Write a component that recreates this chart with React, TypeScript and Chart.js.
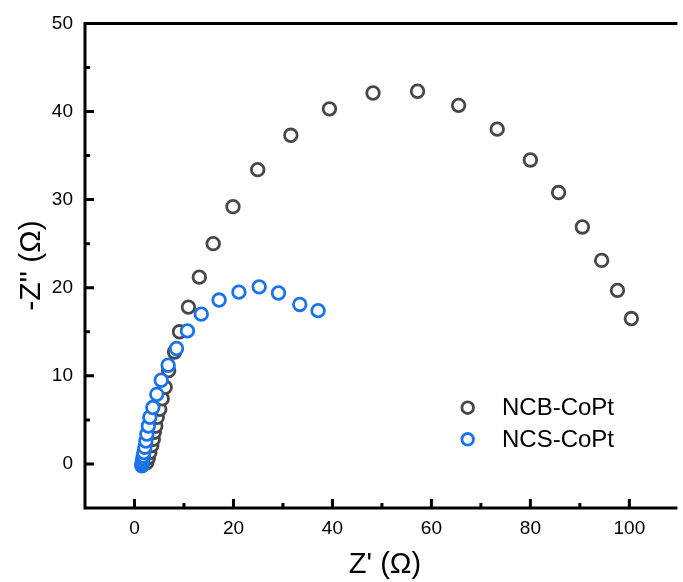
import React, { useEffect, useRef } from "react";
import { Chart, registerables } from "chart.js";

Chart.register(...registerables);

const ncbX = [2.5, 2.8, 3.1, 3.5, 3.8, 4.0, 4.3, 4.6, 5.1, 5.6, 6.2, 6.9, 8.1, 9.1, 10.9, 13.1, 15.9, 19.9, 24.9, 31.6, 39.4, 48.2, 57.2, 65.5, 73.3, 80.0, 85.7, 90.5, 94.4, 97.6, 100.4];
const ncbY = [0.15, 0.7, 1.3, 2.1, 2.8, 3.6, 4.3, 5.3, 6.2, 7.4, 8.7, 10.6, 12.7, 15.0, 17.8, 21.2, 25.0, 29.2, 33.4, 37.3, 40.3, 42.1, 42.3, 40.7, 38.0, 34.5, 30.8, 26.9, 23.1, 19.7, 16.5];
const ncsX = [1.5, 1.5, 1.55, 1.6, 1.7, 1.8, 1.9, 2.1, 2.3, 2.5, 2.8, 3.1, 3.7, 4.5, 5.4, 6.8, 8.5, 10.7, 13.5, 17.1, 21.1, 25.2, 29.1, 33.4, 37.1];
const ncsY = [-0.2, -0.1, 0.1, 0.3, 0.6, 0.9, 1.3, 1.9, 2.6, 3.4, 4.3, 5.3, 6.4, 7.9, 9.5, 11.2, 13.1, 15.1, 17.0, 18.6, 19.5, 20.1, 19.4, 18.1, 17.4];

const seriesNames = ["NCB-CoPt", "NCS-CoPt"];
const seriesColors = ["#474747", "#1a73e8"];
const xMajorTicks = [0, 20, 40, 60, 80, 100];
const xMinorTicks = [-10, 10, 30, 50, 70, 90];
const yMajorTicks = [0, 10, 20, 30, 40, 50];
const yMinorTicks = [-5, 5, 15, 25, 35, 45];
const xTitle = "Z' (\u03A9)";
const yTitle = "-Z'' (\u03A9)";

const FONT = "'Liberation Sans', Arial, sans-serif";

const decorPlugin = {
  id: "decor",
  afterDraw(chart: any) {
    const { ctx, chartArea } = chart;
    const xs = chart.scales.x;
    const ys = chart.scales.y;
    const { left, right, top, bottom } = chartArea;
    ctx.save();
    ctx.strokeStyle = "#000";
    ctx.lineWidth = 3;
    ctx.lineCap = "square";
    ctx.beginPath();
    ctx.moveTo(left, top);
    ctx.lineTo(right + 2, top);
    ctx.moveTo(left, top);
    ctx.lineTo(left, bottom);
    ctx.lineTo(right + 2, bottom);
    ctx.stroke();
    ctx.lineCap = "butt";
    // ticks inward
    ctx.beginPath();
    xMajorTicks.forEach((v) => {
      const p = xs.getPixelForValue(v);
      ctx.moveTo(p, bottom);
      ctx.lineTo(p, bottom - 9);
    });
    xMinorTicks.forEach((v) => {
      const p = xs.getPixelForValue(v);
      if (p <= left + 1) return;
      ctx.moveTo(p, bottom);
      ctx.lineTo(p, bottom - 5);
    });
    yMajorTicks.forEach((v) => {
      const p = ys.getPixelForValue(v);
      ctx.moveTo(left, p);
      ctx.lineTo(left + 9, p);
    });
    yMinorTicks.forEach((v) => {
      const p = ys.getPixelForValue(v);
      if (p >= bottom - 1) return;
      ctx.moveTo(left, p);
      ctx.lineTo(left + 5, p);
    });
    ctx.stroke();

    // axis titles
    ctx.fillStyle = "#000";
    ctx.font = `29px ${FONT}`;
    ctx.textAlign = "center";
    ctx.textBaseline = "alphabetic";
    ctx.fillText(xTitle, 385, 573);
    ctx.save();
    ctx.translate(40, 265.5);
    ctx.rotate(-Math.PI / 2);
    ctx.font = `30px ${FONT}`;
    ctx.fillText(yTitle, 0, 0);
    ctx.restore();

    // legend
    const legendY = [407.7, 439.3];
    ctx.font = `24px ${FONT}`;
    ctx.textAlign = "left";
    ctx.textBaseline = "middle";
    seriesNames.forEach((name, i) => {
      ctx.beginPath();
      ctx.lineWidth = 2.8;
      ctx.strokeStyle = seriesColors[i];
      ctx.fillStyle = "#fff";
      ctx.arc(467.7, legendY[i], 5.8, 0, Math.PI * 2);
      ctx.fill();
      ctx.stroke();
      ctx.fillStyle = "#000";
      ctx.fillText(name, 502, legendY[i] + 1);
    });
    ctx.restore();
  },
};

export default function App() {
  const ref = useRef<HTMLCanvasElement>(null);
  useEffect(() => {
    const canvas = ref.current!;
    const mk = (xsArr: number[], ysArr: number[]) => xsArr.map((x, i) => ({ x, y: ysArr[i] }));
    const common = { pointRadius: 6.3, pointBorderWidth: 2.8, backgroundColor: "#ffffff", pointBackgroundColor: "#ffffff" };
    const chart = new Chart(canvas, {
      type: "scatter",
      data: {
        datasets: [
          {
            label: seriesNames[1],
            data: mk(ncsX, ncsY),
            ...common,
            borderColor: seriesColors[1],
            pointBorderColor: seriesColors[1],
          },
          {
            label: seriesNames[0],
            data: mk(ncbX, ncbY),
            ...common,
            borderColor: seriesColors[0],
            pointBorderColor: seriesColors[0],
          },
        ],
      },
      options: {
        responsive: false,
        animation: false,
        devicePixelRatio: 1,
        layout: { padding: { top: 23, right: 0, left: 0, bottom: 0 } },
        plugins: { legend: { display: false }, tooltip: { enabled: false } },
        scales: {
          x: {
            type: "linear",
            min: -10,
            max: 109,
            border: { display: false },
            grid: { display: false, drawTicks: false },
            afterBuildTicks: (s: any) => {
              s.ticks = xMajorTicks.map((v) => ({ value: v }));
            },
            afterFit: (s: any) => {
              s.height = 74;
            },
            ticks: {
              color: "#000",
              padding: 9,
              maxRotation: 0,
              autoSkip: false,
              font: { family: FONT, size: 19 },
            },
          },
          y: {
            type: "linear",
            min: -5,
            max: 50,
            border: { display: false },
            grid: { display: false, drawTicks: false },
            afterBuildTicks: (s: any) => {
              s.ticks = yMajorTicks.map((v) => ({ value: v }));
            },
            afterFit: (s: any) => {
              s.width = 85;
            },
            ticks: {
              color: "#000",
              padding: 12,
              autoSkip: false,
              font: { family: FONT, size: 19 },
            },
          },
        },
      },
      plugins: [decorPlugin],
    } as any);
    return () => chart.destroy();
  }, []);
  return (
    <div style={{ position: "absolute", left: 0, top: 0, width: 683, height: 582, background: "#fff" }}>
      <canvas ref={ref} width={683} height={582} style={{ display: "block" }} />
    </div>
  );
}
